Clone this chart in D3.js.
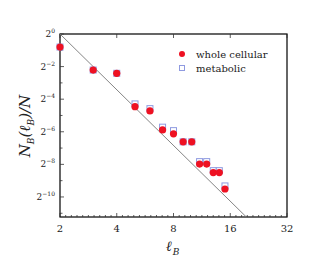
<!DOCTYPE html>
<html><head><meta charset="utf-8">
<script src="https://cdn.jsdelivr.net/npm/d3@7"></script>
<style>body{margin:0;background:#fff}svg{display:block}</style>
</head><body>
<svg id="c" width="322" height="275"></svg>
<script>
const lB = [2,3,4,5,6,7,8,9,10,11,12,13,14,15];
const wholeCellular = [0.574,0.216,0.188,0.0454,0.0379,0.0169,0.0143,0.0102,0.0102,0.00396,0.00396,0.00275,0.00275,0.00137];
const metabolic     = [0.574,0.216,0.188,0.0511,0.0418,0.0190,0.0164,0.0102,0.0102,0.00439,0.00439,0.00299,0.00299,0.00156];
const xTicks = [2,4,8,16,32];
const yTickExps = [0,-2,-4,-6,-8,-10];
const fitExponent = -3.42, fitX0 = 2, fitY0 = 1;
const legendLabels = ["whole cellular","metabolic"];

const svg = d3.select("#c");
const L=60,R=287,T=34,B=217;
const x = d3.scaleLog().base(2).domain([2,32]).range([L,R]);
const y = d3.scaleLog().base(2).domain([1,Math.pow(2,-11.23)]).range([T,B]);
const serif = "'DejaVu Serif','Liberation Serif',serif";

// frame
svg.append("rect").attr("x",L).attr("y",T).attr("width",R-L).attr("height",B-T)
  .attr("fill","none").attr("stroke","#000").attr("stroke-width",1.2);

// x ticks (major + minor, inward), bottom and top
const g = svg.append("g").attr("stroke","#333").attr("stroke-width",0.8);
for(let o=1;o<5;o++){
  for(let k=1;k<10;k++){
    const v=Math.pow(2,o+k/10);
    g.append("line").attr("x1",x(v)).attr("x2",x(v)).attr("y1",B).attr("y2",B-2);
  }
}
xTicks.forEach(v=>{
  g.append("line").attr("x1",x(v)).attr("x2",x(v)).attr("y1",B).attr("y2",B-4);
  g.append("line").attr("x1",x(v)).attr("x2",x(v)).attr("y1",T).attr("y2",T+4);
  svg.append("text").attr("x",x(v)).attr("y",B+15).attr("text-anchor","middle")
    .attr("font-family",serif).attr("font-size",10).attr("fill","#222").text(v);
});
// y ticks
for(let e=0;e>=-11;e--){
  const len = (e%2===0)?4:2.5;
  g.append("line").attr("x1",L).attr("x2",L+len).attr("y1",y(Math.pow(2,e))).attr("y2",y(Math.pow(2,e)));
}
yTickExps.forEach(e=>{
  const t=svg.append("text").attr("x",L-5).attr("y",y(Math.pow(2,e))+3).attr("text-anchor","end")
    .attr("font-family",serif).attr("font-size",9).attr("fill","#222");
  t.append("tspan").text("2");
  t.append("tspan").attr("dy",-4).attr("font-size",6).text(String(e).replace("-","\u2212"));
});

// fit line
const fit = v => fitY0*Math.pow(v/fitX0, fitExponent);
const xEnd = fitX0*Math.pow(y.domain()[1]/fitY0, 1/fitExponent);
svg.append("line").attr("x1",x(fitX0)).attr("y1",y(fit(fitX0))).attr("x2",x(xEnd)).attr("y2",y(fit(xEnd)))
  .attr("stroke","#777").attr("stroke-width",0.9);

// metabolic squares
const s=6;
svg.append("g").selectAll("rect").data(lB).join("rect")
  .attr("x",(d)=>x(d)-s/2).attr("y",(d,i)=>y(metabolic[i])-s/2).attr("width",s).attr("height",s)
  .attr("fill","#fff").attr("stroke","#8f9ae0").attr("stroke-width",1);
// whole cellular circles
svg.append("g").selectAll("circle").data(lB).join("circle")
  .attr("cx",d=>x(d)).attr("cy",(d,i)=>y(wholeCellular[i])).attr("r",3.6).attr("fill","#ee1122");

// legend
svg.append("circle").attr("cx",182).attr("cy",54).attr("r",3).attr("fill","#ee1122");
svg.append("rect").attr("x",179.5).attr("y",65.5).attr("width",5).attr("height",5).attr("fill","#fff").attr("stroke","#8f9ae0");
legendLabels.forEach((t,i)=>svg.append("text").attr("x",196).attr("y",57.5+i*14)
  .attr("font-family",serif).attr("font-size",10).attr("fill","#222").text(t));

// axis labels
const xl = svg.append("text").attr("x",166).attr("y",251).attr("font-family",serif).attr("font-style","italic")
  .attr("font-size",14).attr("fill","#222");
xl.append("tspan").text("\u2113");
xl.append("tspan").attr("dy",4).attr("dx",1).attr("font-size",9).text("B");

const yl = svg.append("text").attr("transform","translate(30,126) rotate(-90)").attr("text-anchor","middle")
  .attr("font-family",serif).attr("font-style","italic").attr("font-size",15).attr("fill","#222");
yl.append("tspan").text("N");
yl.append("tspan").attr("dy",4).attr("font-size",9).text("B");
yl.append("tspan").attr("dy",-4).text("(\u2113");
yl.append("tspan").attr("dy",4).attr("font-size",9).text("B");
yl.append("tspan").attr("dy",-4).text(")/N");
</script>
</body></html>
